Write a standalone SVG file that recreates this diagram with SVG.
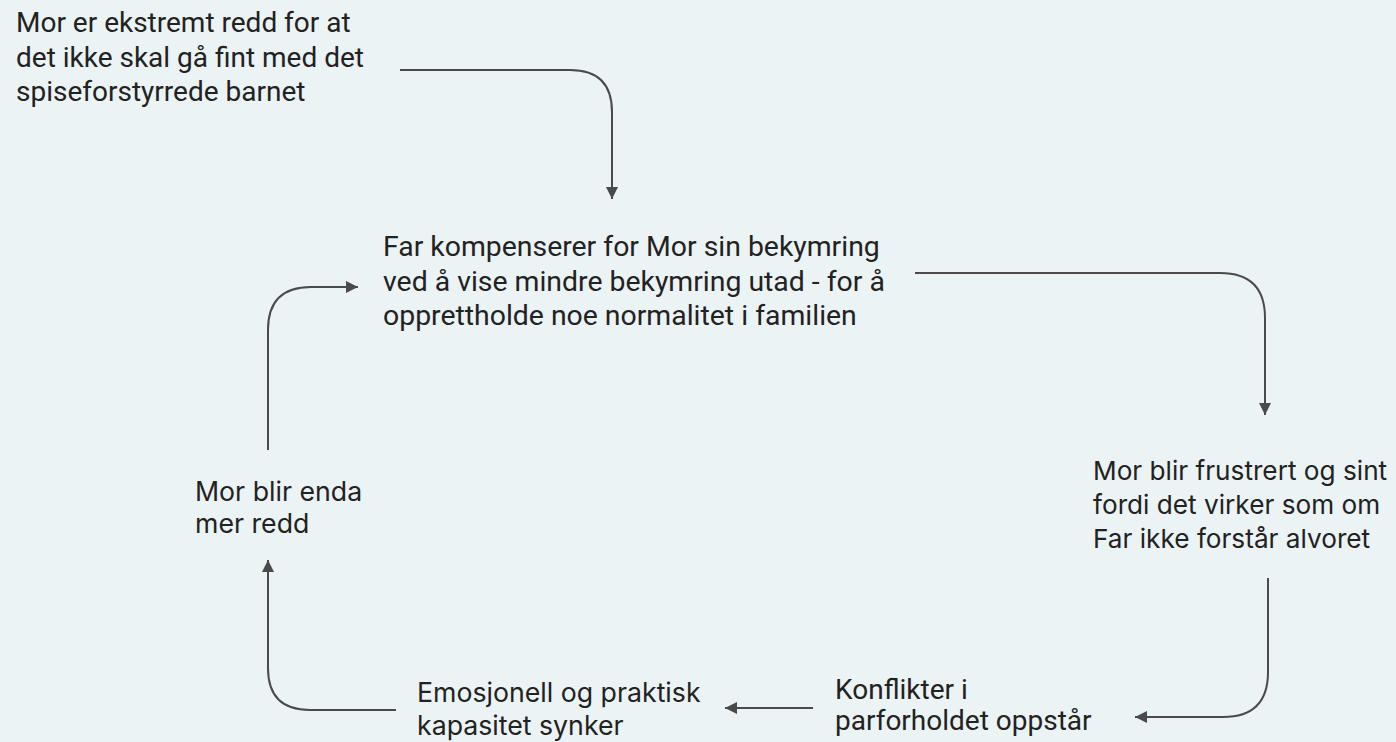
<svg xmlns="http://www.w3.org/2000/svg" width="1396" height="742" viewBox="0 0 1396 742">
  <style>
    .bg { fill: #ecf3f5; }
    .t { font-family: Roboto, "Liberation Sans", sans-serif; font-size: 28px; fill: #222222; }
    .ti { font-family: Inter, "Liberation Sans", sans-serif; font-size: 26.7px; fill: #222222; }
    .c { fill: none; stroke: #4a4a4a; stroke-width: 2; }
  </style>
  <defs>
    <marker id="arrow" viewBox="0 0 10 10" refX="10" refY="5" markerWidth="12" markerHeight="12" markerUnits="userSpaceOnUse" orient="auto">
      <path d="M0,0 L10,5 L0,10 Z" fill="#4a4a4a"/>
    </marker>
  </defs>
  <rect class="bg" x="0" y="0" width="1396" height="742"/>

  <g id="connectors">
    <path class="c" marker-end="url(#arrow)" d="M400,70 H570 Q612,70 612,112 V199"/>
    <path class="c" marker-end="url(#arrow)" d="M915,273 H1220 Q1265,273 1265,318 V415"/>
    <path class="c" marker-end="url(#arrow)" d="M1268,578 V672 Q1268,717 1223,717 H1135"/>
    <path class="c" marker-end="url(#arrow)" d="M813,708 H725"/>
    <path class="c" marker-end="url(#arrow)" d="M396,710 H310 Q268,710 268,668 V560"/>
    <path class="c" marker-end="url(#arrow)" d="M268,450 V330 Q268,287 311,287 H358"/>
  </g>

  <g id="node-mor-redd">
    <text class="t" x="16" y="32">Mor er ekstremt redd for at</text>
    <text class="t" x="16" y="67">det ikke skal gå fint med det</text>
    <text class="t" x="16" y="101">spiseforstyrrede barnet</text>
  </g>
  <g id="node-far-kompenserer">
    <text class="t" x="383" y="256" style="font-size:28.4px">Far kompenserer for Mor sin bekymring</text>
    <text class="t" x="383" y="291" style="font-size:28.4px">ved å vise mindre bekymring utad - for å</text>
    <text class="t" x="383" y="325" style="font-size:28.4px">opprettholde noe normalitet i familien</text>
  </g>
  <g id="node-mor-frustrert">
    <text class="ti" x="1093" y="480" style="font-size:26.2px">Mor blir frustrert og sint</text>
    <text class="ti" x="1093" y="514" style="font-size:26.2px">fordi det virker som om</text>
    <text class="ti" x="1093" y="548" style="font-size:26.2px">Far ikke forstår alvoret</text>
  </g>
  <g id="node-konflikter">
    <text class="t" x="835" y="699">Konflikter i</text>
    <text class="t" x="835" y="730">parforholdet oppstår</text>
  </g>
  <g id="node-kapasitet">
    <text class="ti" x="417" y="702">Emosjonell og praktisk</text>
    <text class="ti" x="417" y="735">kapasitet synker</text>
  </g>
  <g id="node-mor-enda">
    <text class="ti" x="195" y="501">Mor blir enda</text>
    <text class="ti" x="195" y="533">mer redd</text>
  </g>
</svg>
